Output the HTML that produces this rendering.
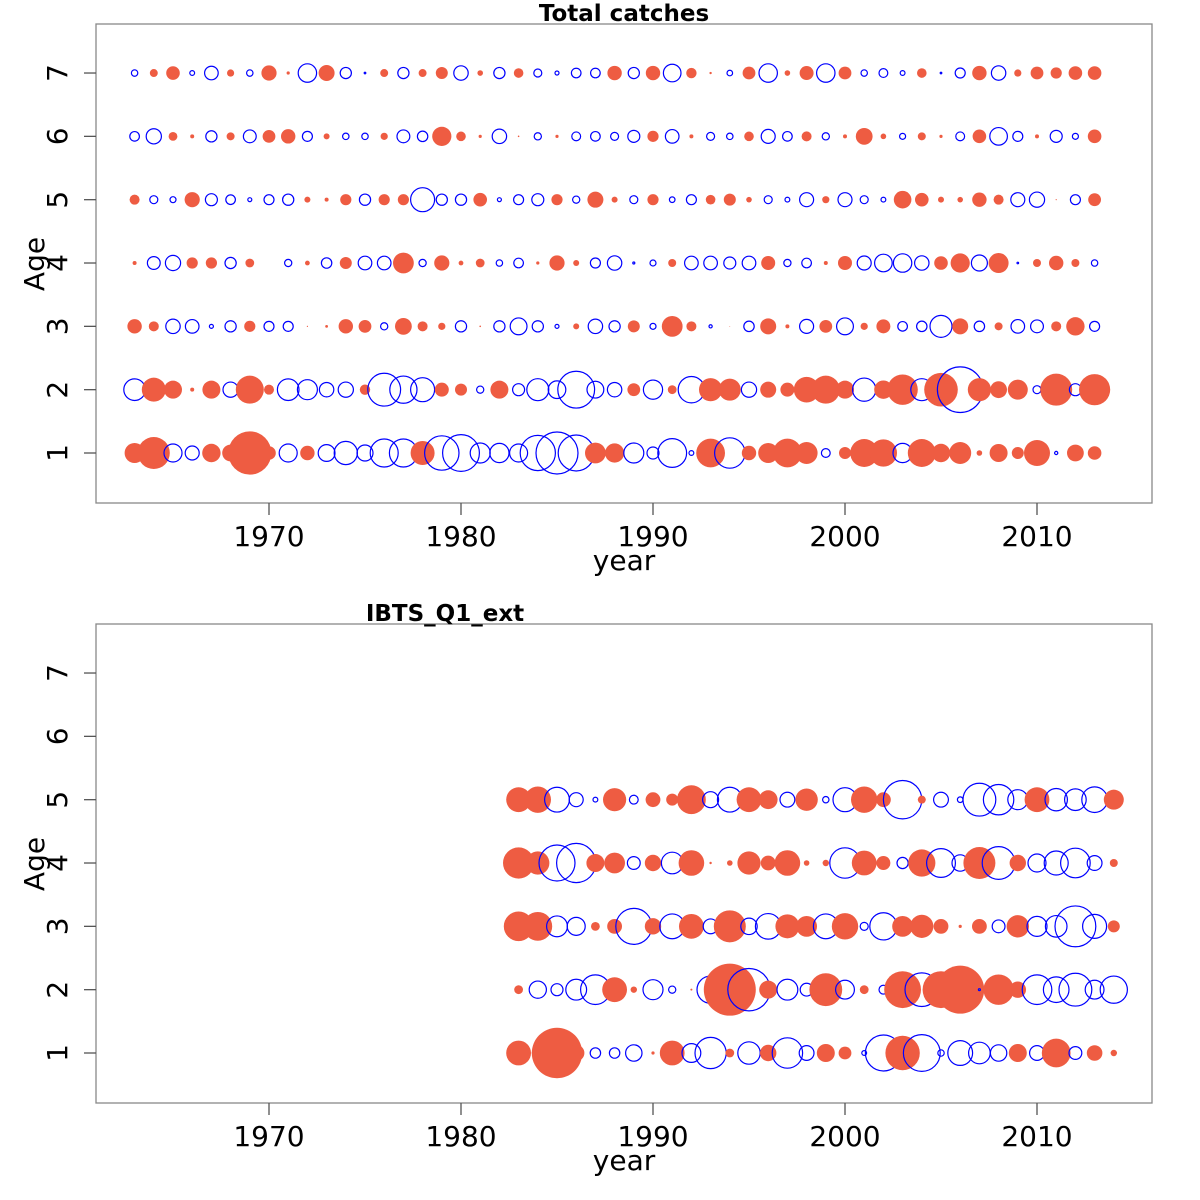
<!DOCTYPE html>
<html><head><meta charset="utf-8">
<style>
html,body{margin:0;padding:0;background:#fff;}
svg{display:block;font-family:"DejaVu Sans","Liberation Sans",sans-serif;}
</style></head>
<body>
<svg id="chart" width="1200" height="1200" viewBox="0 0 1200 1200" xmlns="http://www.w3.org/2000/svg"></svg>
<script>
// ---- data ----
const topYears = [1963,1964,1965,1966,1967,1968,1969,1970,1971,1972,1973,1974,1975,1976,1977,1978,1979,1980,1981,1982,1983,1984,1985,1986,1987,1988,1989,1990,1991,1992,1993,1994,1995,1996,1997,1998,1999,2000,2001,2002,2003,2004,2005,2006,2007,2008,2009,2010,2011,2012,2013];
const topAge1 = [2.5,4.0,-2.25,-1.75,2.3,2.1,5.4,1.7,-2.25,1.8,-2.1,-2.9,-2.0,-3.5,-3.5,3.0,-4.3,-4.6,-2.5,-2.4,-2.25,-4.4,-5.25,-4.5,2.6,2.4,-2.5,-1.5,-3.6,-0.6,3.6,-3.8,1.8,2.5,3.6,2.75,-1.1,1.5,3.5,3.4,-2.4,3.5,2.3,2.75,0.7,2.25,1.5,3.25,-0.4,2.1,1.7];
const topAge2 = [-2.7,3.0,2.25,0.5,2.25,-1.9,3.5,1.25,-2.7,-2.5,-1.8,-1.9,1.3,-4.1,-3.4,-3.0,1.75,1.5,-0.9,2.25,-1.5,-2.75,-2.2,-4.6,-2.1,-1.8,1.6,-2.4,1.1,-3.3,2.9,2.75,-1.9,2.0,1.75,3.2,3.5,2.25,-2.9,2.3,3.8,-2.75,4.2,-5.7,2.9,2.1,2.5,-1.0,4.0,-1.5,3.9];
const topAge3 = [1.8,1.25,-1.8,-1.7,-0.5,-1.4,1.4,-1.25,-1.25,0.15,0.35,1.8,1.6,-0.9,2.1,1.25,0.9,-1.4,0.2,-1.4,-2.1,-1.4,-0.5,0.75,-1.8,-1.4,1.5,-0.75,2.6,1.25,-0.4,0.1,-1.3,2.0,0.5,-1.75,1.6,-2.1,0.9,1.75,-1.2,-1.3,-2.75,2.0,-1.3,1.0,-1.7,-1.6,1.25,2.3,-1.25];
const topAge4 = [0.5,-1.6,-1.9,1.4,1.4,-1.4,1.1,0,-0.9,0.6,-1.3,1.5,-1.7,-1.7,2.6,-0.9,1.9,0.6,1.1,-0.8,-1.2,0.4,1.9,0.75,-1.25,-1.8,-0.25,-0.75,1.0,-1.7,-1.7,-1.5,-1.7,1.75,-0.9,-1.2,0.5,1.75,-1.75,-2.2,-2.3,-1.8,1.7,2.4,-2.0,2.5,-0.2,1.0,1.8,1.0,-0.8];
const topAge5 = [1.25,-1.0,-0.75,1.9,-1.5,-1.2,-0.5,-1.25,-1.4,0.75,0.5,1.4,-1.4,1.4,1.4,-3.0,-1.4,-1.4,1.7,-0.5,-1.25,-1.5,1.4,-0.9,2.0,0.75,-1.0,1.4,-0.7,-1.25,1.2,1.5,0.7,-1.0,-0.6,-1.75,0.9,-1.75,-1.0,-0.6,2.2,1.7,0.75,0.7,1.8,1.25,-1.75,-1.9,0.15,-1.25,1.6];
const topAge6 = [-1.2,-1.9,1.1,0.5,-1.4,1.0,-1.6,1.6,1.8,-1.25,0.75,-0.8,-0.8,0.9,-1.6,-1.3,2.4,1.2,0.4,-1.8,0.2,-0.9,0.4,-1.1,-1.2,-1.0,-1.5,1.4,-1.7,0.5,-1.0,-0.8,1.2,-1.75,-1.2,1.25,-0.9,0.5,2.1,0.7,-0.75,1.0,0.4,-1.1,1.7,-2.2,-1.25,0.5,-1.5,-0.75,1.7];
const topAge7 = [-0.8,1.0,1.7,-0.6,-1.7,0.9,-0.8,1.9,0.4,-2.3,2.0,-1.4,-0.2,1.0,-1.4,1.0,1.5,-1.8,0.7,-1.4,1.2,-1.0,-0.5,-1.2,-1.2,1.8,-1.4,1.8,-2.2,1.3,0.3,-0.7,1.6,-2.3,0.7,1.75,-2.3,1.6,-0.8,-1.1,-0.6,1.2,-0.2,-1.25,1.8,-1.8,0.9,1.6,1.4,1.7,1.7];

const botYears = [1983,1984,1985,1986,1987,1988,1989,1990,1991,1992,1993,1994,1995,1996,1997,1998,1999,2000,2001,2002,2003,2004,2005,2006,2007,2008,2009,2010,2011,2012,2013,2014];
const botAge1 = [3.1,1.5,6.3,2.05,-1.3,-1.3,-2.05,0.4,3.1,-2.35,-3.9,1.1,-2.8,2.05,-3.8,-1.85,2.25,1.6,-0.6,-4.5,4.3,-4.6,-0.8,-3.1,-2.7,-2.05,2.25,-1.85,3.6,-1.6,1.95,0.8];
const botAge2 = [1.1,-2.15,-1.5,-2.6,-3.7,3.1,0.8,-2.5,-0.9,0.25,-3.4,6.5,-5.3,2.25,-2.6,-1.6,4.1,-2.35,1.1,-1.1,4.6,-4.2,4.6,6.0,-0.25,3.8,2.05,-3.7,-3.2,-4.1,-2.35,-3.4];
const botAge3 = [3.7,3.6,-2.6,-2.25,1.1,1.85,-4.5,2.05,-3.1,3.1,-1.85,4.0,-2.05,-3.2,3.0,2.6,-3.1,3.3,-1.0,-3.4,2.6,2.9,1.85,0.4,1.85,-1.6,2.8,-2.5,-2.7,-5.1,-3.0,1.5];
const botAge4 = [3.9,2.9,-4.5,-4.9,2.25,2.6,-1.6,2.05,-2.7,3.2,0.3,0.7,2.9,1.85,3.2,0.7,0.8,-3.8,3.1,1.75,-1.4,3.4,-3.6,-2.05,4.0,-4.1,2.05,-2.25,-3.0,-3.7,-1.85,1.0];
const botAge5 = [3.1,3.3,-3.1,-1.75,-0.6,2.9,-1.1,1.85,1.5,3.6,-2.0,-3.1,3.1,2.35,-1.85,2.8,-0.8,-3.0,3.3,1.85,-4.8,1.0,-1.85,-0.7,-4.1,-3.8,-2.5,3.1,-2.8,-2.7,-3.2,2.5];

const xTicks = [1970,1980,1990,2000,2010];
const yTicks = [1,2,3,4,5,6,7];

// ---- scales ----
const X0 = 96, X1 = 1152;
function xScale(yr){ return 269 + (yr - 1970) * 19.2; }
function yScale(age, top){ return top + 429 - (age - 1) * 63.33; }
function rScale(v){ return Math.abs(v) * 4; }

const NS = "http://www.w3.org/2000/svg";
const svg = document.getElementById('chart');
function mk(tag, attrs, parent){
  const e = document.createElementNS(NS, tag);
  for (const k in attrs) e.setAttribute(k, attrs[k]);
  (parent || svg).appendChild(e);
  return e;
}

function panel(top, title, titleX, years, series, key){
  const g = mk('g', {});
  
  
  const bottom = top + 479;
  const frame = mk('rect', {x:X0, y:top, width:X1-X0, height:479, fill:'none', stroke:'#888', 'stroke-width':1.3}, g);
  
  
  const t = mk('text', {x:titleX, y:top-3, 'text-anchor':'middle', 'font-size':23, 'font-weight':'bold', fill:'#000'}, g);
  t.textContent = title;
  
  
  xTicks.forEach(v => {
    const x = xScale(v);
    const tk = mk('line', {x1:x, x2:x, y1:bottom, y2:bottom+12, stroke:'#555', 'stroke-width':1.3}, g);
    
    
    const lb = mk('text', {x:x, y:bottom+43, 'text-anchor':'middle', 'font-size':28, fill:'#000'}, g);
    lb.textContent = v;
    
    
  });
  yTicks.forEach(v => {
    const y = yScale(v, top);
    const tk = mk('line', {x1:X0-12, x2:X0, y1:y, y2:y, stroke:'#555', 'stroke-width':1.3}, g);
    
    
    const lb = mk('text', {x:0, y:0, 'text-anchor':'middle', 'font-size':28, fill:'#000', transform:'translate(67,'+y+') rotate(-90)'}, g);
    lb.textContent = v;
    
    
  });
  const xl = mk('text', {x:624, y:bottom+67, 'text-anchor':'middle', 'font-size':28, fill:'#000'}, g);
  xl.textContent = 'year';
  
  
  const yl = mk('text', {x:0, y:0, 'text-anchor':'middle', 'font-size':28, fill:'#000', transform:'translate(44,'+(top+240)+') rotate(-90)'}, g);
  yl.textContent = 'Age';
  
  
  series.forEach((vals, i) => {
    const age = i + 1;
    vals.forEach((v, j) => {
      const r = rScale(v);
      if (r <= 0) return;
      const c = mk('circle', {cx:xScale(years[j]), cy:yScale(age, top), r:r}, g);
      if (v > 0){ c.setAttribute('fill', '#EE5C42'); c.setAttribute('stroke', 'none'); }
      else { c.setAttribute('fill', 'none'); c.setAttribute('stroke', '#0000FF'); c.setAttribute('stroke-width', 1.2); }
      
      
    });
  });
}

panel(24, 'Total catches', 624, topYears, [topAge1, topAge2, topAge3, topAge4, topAge5, topAge6, topAge7], 'total-catches');
panel(624, 'IBTS_Q1_ext', 445, botYears, [botAge1, botAge2, botAge3, botAge4, botAge5], 'ibts-q1');
</script>
</body></html>
